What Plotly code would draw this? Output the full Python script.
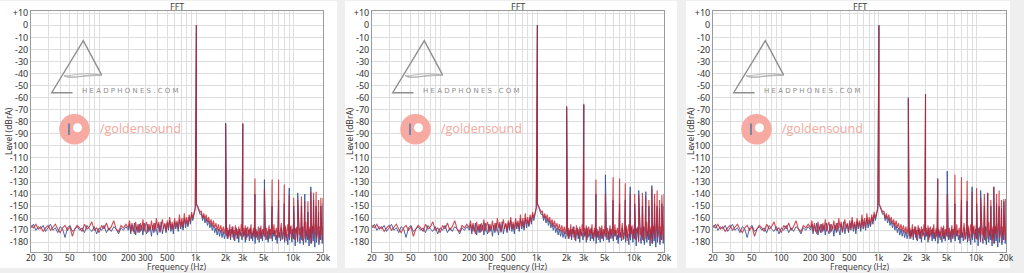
import numpy as np
import plotly.graph_objects as go

W, H = 1024, 273

# ---------------- data ----------------
# frequency bins of the noise floor (Hz)
FREQ_A = np.geomspace(20, 200, 40, endpoint=False)
FREQ_B = np.geomspace(200, 2000, 80, endpoint=False)
FREQ_C = np.geomspace(2000, 20000, 120)
NOISE_FREQ = np.concatenate([FREQ_A, FREQ_B, FREQ_C])

NOISE_RED = [
    -166, -168, -165, -169, -167, -171, -168, -166, -170, -167,
    -165, -169, -172, -168, -166, -170, -167, -175, -169, -166,
    -168, -171, -165, -169, -167, -163, -170, -168, -172, -166,
    -169, -164, -170, -167, -162, -169, -171, -166, -168, -165,
    # 200 Hz - 2 kHz
    -168, -162, -171, -164, -169, -173, -163, -170, -165, -172,
    -164, -170, -161, -171, -166, -163, -172, -165, -169, -162,
    -170, -164, -171, -160, -168, -163, -172, -165, -161, -169,
    -164, -171, -162, -168, -159, -169, -163, -170, -160, -167,
    -162, -169, -157, -167, -160, -168, -156, -165, -159, -166,
    -157, -163, -155, -160, -154, -151, -148, -150, -153, -155,
    -154, -160, -156, -161, -157, -163, -159, -165, -161, -167,
    -162, -168, -164, -170, -165, -171, -166, -172, -167, -173,
    # 2 kHz - 20 kHz
    -166, -175, -168, -177, -170, -165, -176, -169, -173, -167,
    -178, -170, -166, -174, -169, -177, -167, -172, -175, -165,
    -171, -176, -168, -174, -166, -178, -170, -167, -175, -169,
    -173, -165, -177, -170, -168, -176, -166, -174, -171, -178,
    -167, -172, -175, -166, -177, -169, -173, -165, -176, -170,
    -168, -178, -171, -166, -174, -169, -177, -167, -173, -165,
    -175, -170, -168, -177, -166, -172, -176, -169, -164, -178,
    -171, -167, -175, -166, -179, -170, -165, -176, -168, -173,
    -166, -177, -170, -164, -178, -169, -172, -167, -180, -165,
    -174, -168, -176, -164, -179, -170, -166, -177, -163, -175,
    -169, -165, -178, -167, -181, -166, -173, -164, -177, -168,
    -163, -176, -170, -165, -180, -167, -174, -164, -178, -166,
]

NOISE_BLUE = [
    -168, -165, -170, -167, -169, -166, -171, -168, -165, -170,
    -168, -172, -167, -169, -176, -168, -166, -171, -169, -167,
    -170, -168, -172, -166, -169, -171, -167, -173, -168, -170,
    -166, -172, -168, -171, -167, -169, -173, -168, -170, -167,
    # 200 Hz - 2 kHz
    -170, -165, -173, -166, -171, -164, -174, -167, -172, -165,
    -171, -166, -174, -164, -170, -173, -165, -171, -167, -175,
    -166, -172, -164, -170, -174, -165, -171, -163, -173, -167,
    -165, -172, -164, -170, -162, -171, -165, -173, -163, -169,
    -164, -171, -161, -169, -163, -170, -160, -168, -162, -167,
    -159, -165, -157, -162, -155, -152, -149, -151, -154, -157,
    -156, -162, -158, -164, -160, -166, -162, -168, -164, -170,
    -166, -172, -168, -174, -169, -175, -170, -176, -171, -177,
    # 2 kHz - 20 kHz
    -172, -168, -177, -170, -175, -169, -178, -171, -167, -176,
    -170, -179, -173, -168, -177, -171, -180, -169, -174, -172,
    -178, -169, -175, -171, -180, -168, -176, -173, -170, -179,
    -168, -177, -172, -179, -170, -175, -181, -169, -176, -171,
    -174, -180, -168, -177, -172, -179, -170, -175, -169, -178,
    -176, -171, -180, -169, -177, -173, -168, -179, -171, -175,
    -170, -178, -174, -181, -169, -176, -172, -179, -168, -175,
    -177, -171, -180, -168, -176, -173, -182, -170, -178, -167,
    -173, -180, -169, -177, -171, -183, -168, -175, -179, -170,
    -176, -181, -170, -178, -167, -182, -174, -169, -180, -171,
    -178, -172, -183, -169, -176, -181, -167, -179, -173, -184,
    -170, -180, -175, -168, -182, -171, -178, -169, -181, -172,
]

FUND_FREQ = 1000
FUND_LEVEL = 0

HARM_FREQ = [2000, 3000, 4000, 5000, 6000, 7000, 8000, 9000, 10000, 11000,
             12000, 13000, 14000, 15000, 16000, 17000, 18000, 19000, 20000]

P1_BLUE = [-81, -82, -140, -128, -150, -145, -148, -135, -150, -139,
           -150, -140, -155, -134, -145, -150, -155, -150, -148]
P1_RED = [-82, -81, -127, -136, -128, -128, -132, -141, -143, -145,
          -142, -146, -146, -138, -139, -138, -145, -143, -143]

P2_BLUE = [-68, -66, -140, -124, -145, -148, -145, -134, -148, -137,
           -150, -138, -150, -133, -148, -150, -152, -148, -150]
P2_RED = [-67, -65, -128, -140, -126, -127, -131, -140, -140, -141,
          -139, -142, -145, -136, -140, -137, -145, -141, -140]

P3_BLUE = [-60, -57, -127, -121, -148, -145, -146, -134, -148, -137,
           -150, -139, -150, -134, -148, -150, -152, -146, -144]
P3_RED = [-61, -57, -128, -140, -124, -126, -129, -138, -135, -143,
          -140, -139, -145, -134, -140, -137, -145, -144, -144]

X_GRID_VALS = [20, 30, 40, 50, 60, 70, 80, 90, 100, 200, 300, 400, 500, 600, 700, 800, 900,
               1000, 2000, 3000, 4000, 5000, 6000, 7000, 8000, 9000, 10000, 20000]
X_LABEL_VALS = [20, 30, 50, 100, 200, 300, 500, 1000, 2000, 3000, 5000, 10000, 20000]
X_LABEL_TEXT = ["20", "30", "50", "100", "200", "300", "500", "1k", "2k", "3k", "5k", "10k", "20k"]
Y_TICK_VALS = list(range(10, -190, -10))
Y_TICK_TEXT = ["+10" if v > 0 else str(v) for v in Y_TICK_VALS]

PANELS = [(P1_BLUE, P1_RED), (P2_BLUE, P2_RED), (P3_BLUE, P3_RED)]

# ---------------- layout geometry (pixels) ----------------
PLOT_LEFT = [31, 372, 713]
PLOT_RIGHT = [323, 664, 1006]
PLOT_TOP, PLOT_BOTTOM = 11, 252.3
CARDS = [(0, 337), (345, 677), (686, 1010)]
CARD_TOP, CARD_BOTTOM = 1, 268

BLUE = "rgba(55,85,155,0.9)"
RED = "rgba(195,30,42,0.8)"
FONT = "Noto Sans"


def px(x):
    return x / W


def py(y):
    return 1 - y / H


def spectrum(noise, harm):
    x = np.concatenate([NOISE_FREQ, [FUND_FREQ], HARM_FREQ])
    y = np.concatenate([noise, [FUND_LEVEL], harm])
    order = np.argsort(x, kind="mergesort")
    return x[order], y[order]


def note(text, x, y, size=9, color="#333", xanchor="center", angle=0, family=FONT):
    return dict(text=text, x=px(x), y=py(y), xref="paper", yref="paper", showarrow=False,
                xanchor=xanchor, yanchor="middle", textangle=angle,
                font=dict(size=size, color=color, family=family))


fig = go.Figure()
layout = dict(
    width=W, height=H, margin=dict(l=0, r=0, t=0, b=0, autoexpand=False),
    paper_bgcolor="#efefef", plot_bgcolor="white", showlegend=False,
    font=dict(family=FONT, size=9, color="#333333"),
)
shapes, annotations = [], []

for i, (hb, hr) in enumerate(PANELS):
    n = "" if i == 0 else str(i + 1)
    xb, yb = spectrum(NOISE_BLUE, hb)
    xr, yr = spectrum(NOISE_RED, hr)
    fig.add_trace(go.Scatter(x=xb, y=yb, mode="lines", line=dict(color=BLUE, width=1),
                             xaxis="x" + n, yaxis="y" + n, hoverinfo="skip"))
    fig.add_trace(go.Scatter(x=xr, y=yr, mode="lines", line=dict(color=RED, width=1.1),
                             xaxis="x" + n, yaxis="y" + n, hoverinfo="skip"))
    L, R = PLOT_LEFT[i], PLOT_RIGHT[i]
    layout["xaxis" + n] = dict(
        type="log", range=[np.log10(20), np.log10(20000)], domain=[px(L), px(R)],
        anchor="y" + n, tickmode="array", tickvals=X_GRID_VALS, showticklabels=False,
        automargin=False,
        showgrid=True, gridcolor="#dedede", gridwidth=1, zeroline=False,
        showline=True, linecolor="#9a9a9a", linewidth=1, mirror=True, ticks="",
    )
    layout["yaxis" + n] = dict(
        range=[-188.3, 11.9], domain=[py(PLOT_BOTTOM), py(PLOT_TOP)], anchor="x" + n,
        tickmode="array", tickvals=Y_TICK_VALS, ticktext=Y_TICK_TEXT, automargin=False,
        showgrid=True, gridcolor="#dedede", gridwidth=1, zeroline=False,
        showline=True, linecolor="#9a9a9a", linewidth=1, mirror=True, ticks="",
        tickfont=dict(size=9, color="#333"),
    )
    # x tick labels
    for v, t in zip(X_LABEL_VALS, X_LABEL_TEXT):
        annotations.append(dict(text=t, x=np.log10(v), y=py(257.6), xref="x" + n,
                                yref="paper", showarrow=False, xanchor="center",
                                yanchor="middle", font=dict(size=8.5, color="#333")))
    # white card
    c0, c1 = CARDS[i]
    shapes.append(dict(type="rect", xref="paper", yref="paper", x0=px(c0), x1=px(c1),
                       y0=py(CARD_BOTTOM), y1=py(CARD_TOP), fillcolor="white",
                       line=dict(width=0), layer="below"))
    cx = (L + R) / 2
    annotations += [
        note("FFT", cx, 6, color="#444"),
        note("Frequency (Hz)", cx, 266.8, size=8.5, color="#444"),
        note("Level (dBrA)", L - 23, 131, size=8.5, angle=-90),
    ]
    # headphones.com watermark
    g = "#8e8e8e"
    shapes.append(dict(type="path", xref="paper", yref="paper",
                       path=(f"M {px(L+41.5)},{py(92.7)} L {px(L+20.7)},{py(92.7)} "
                             f"L {px(L+52.3)},{py(40.7)} L {px(L+70.7)},{py(75.2)}"),
                       line=dict(color=g, width=1.4)))
    for a, b in [((69.5, 77), (62.5, 71)), ((67, 81), (62, 73.5)), ((72, 78.5), (62.5, 76))]:
        shapes.append(dict(type="path", xref="paper", yref="paper",
                           path=(f"M {px(L+33)},{py(75.5)} C {px(L+40)},{py(a[1])} "
                                 f"{px(L+50)},{py(b[1])} {px(L+70.7)},{py(75.2)}"),
                           line=dict(color="#a8a8a8", width=0.8)))
    annotations.append(note("H E A D P H O N E S . C O M", L + 99, 90.8, size=7,
                            color=g, family="DejaVu Sans"))
    # goldensound watermark
    ccx, ccy, r = L + 43.5, 129.3, 15.3
    shapes.append(dict(type="circle", xref="paper", yref="paper",
                       x0=px(ccx - r), x1=px(ccx + r), y0=py(ccy + r), y1=py(ccy - r),
                       fillcolor="#f6aaa1", line=dict(width=0)))
    wx, wy, wr = L + 46.5, 127.7, 4.5
    shapes.append(dict(type="circle", xref="paper", yref="paper",
                       x0=px(wx - wr), x1=px(wx + wr), y0=py(wy + wr), y1=py(wy - wr),
                       fillcolor="white", line=dict(width=0)))
    shapes.append(dict(type="rect", xref="paper", yref="paper",
                       x0=px(L + 37), x1=px(L + 39), y0=py(135), y1=py(123.5),
                       fillcolor="#7686a4", line=dict(width=0)))
    annotations.append(note("/goldensound", L + 66.5, 128.5, size=12.5, color="#f5a89e",
                            xanchor="left", family="Open Sans"))

layout["shapes"] = shapes
layout["annotations"] = annotations
fig.update_layout(**layout)
fig.write_html("out.html")
